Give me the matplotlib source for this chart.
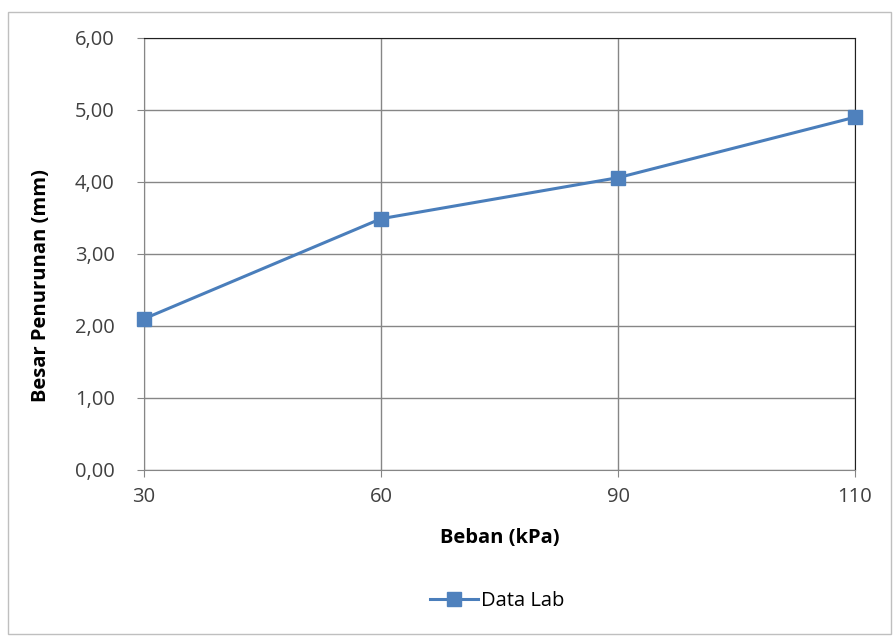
import matplotlib.pyplot as plt
from matplotlib.patches import Rectangle

beban = ['30', '60', '90', '110']
penurunan = [2.10, 3.49, 4.06, 4.90]
y_ticks = [0, 1, 2, 3, 4, 5, 6]

plt.rcParams['font.family'] = ['Open Sans', 'DejaVu Sans']

fig = plt.figure(figsize=(8.96, 6.39), dpi=100)
fig.patches.append(Rectangle((7.5/896, 5/639), 883/896, 622/639, transform=fig.transFigure,
                             fill=False, edgecolor='#bfbfbf', linewidth=1))
ax = fig.add_axes([144/896, 1 - 470/639, 711/896, 432/639])

x = list(range(len(beban)))
ax.plot(x, penurunan, color='#4a7ebb', linewidth=2.2, marker='s', markersize=9.5,
        markerfacecolor='#4f81bd', markeredgecolor='#4f81bd', label='Data Lab',
        zorder=3, clip_on=False)

ax.set_xlim(0, len(beban) - 1)
ax.set_ylim(0, 6)
ax.set_xticks(x)
ax.set_xticklabels(beban)
ax.set_yticks(y_ticks)
ax.set_yticklabels([f'{v:.2f}'.replace('.', ',') for v in y_ticks])
ax.tick_params(labelsize=14.5, colors='#404040', length=5, color='#868686')
ax.tick_params(axis='x', pad=7)
ax.tick_params(axis='y', pad=16)
ax.grid(True, color='#868686', linewidth=1)
for s in ['left', 'bottom']:
    ax.spines[s].set_color('#868686')
for s in ['top', 'right']:
    ax.spines[s].set_color('#202020')
ax.set_axisbelow(True)

ax.set_xlabel('Beban (kPa)', fontsize=14.5, fontweight='bold', va='center')
ax.xaxis.set_label_coords(0.5, -(538 - 470) / 432)
ax.set_ylabel('Besar Penurunan (mm)', fontsize=14.5, fontweight='bold', va='center')
ax.yaxis.set_label_coords(-(144 - 41) / 711, (470 - 286) / 432)

fig.legend(loc='center', bbox_to_anchor=(497/896, 1 - 601/639), frameon=False,
           fontsize=14.5, handlelength=2.4, handletextpad=0.15, markerscale=1.05)

fig.savefig('out.png', dpi=100)
